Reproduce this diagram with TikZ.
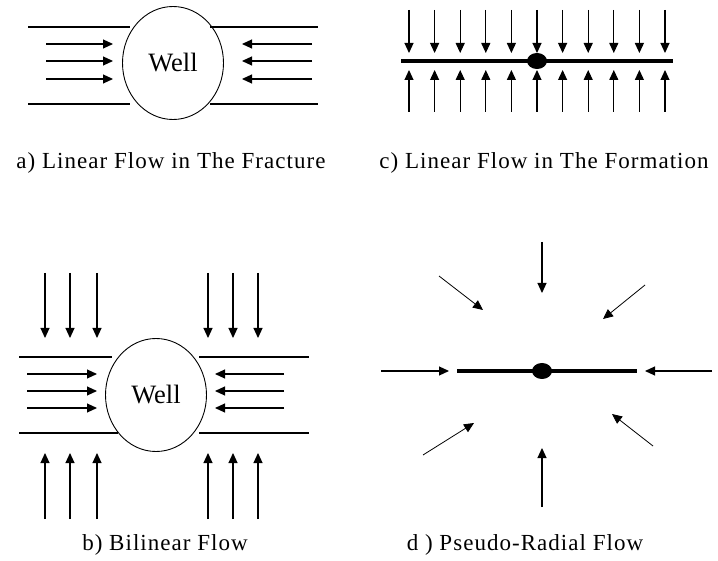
\documentclass[tikz,border=0pt]{standalone}
\usepackage{fontspec}
\setmainfont{Liberation Serif}
\newfontfamily\capfont[LetterSpace=4.5]{Liberation Serif}
\usetikzlibrary{arrows.meta,shapes.geometric}

\begin{document}
\begin{tikzpicture}[x=1pt,y=-1pt,
  flow/.style={line width=1.1pt,-{Triangle[length=10pt,width=9pt]}},
  slant flow/.style={line width=0.8pt,-{Triangle[length=10pt,width=9pt]}},
  wall/.style={line width=1.1pt},
  frac/.style={line width=4.5pt},
  wellbore/.style={ellipse,draw,line width=0.9pt,minimum width=101pt,minimum height=113pt,
                   inner sep=0pt,font=\fontsize{26.5}{31}\selectfont},
  welldot/.style={ellipse,fill=black,minimum width=20pt,minimum height=16pt,inner sep=0pt},
  caption/.style={font=\capfont\fontsize{23}{28}\selectfont,inner sep=0pt,anchor=base}
]
\useasboundingbox (0,0) rectangle (718,561);

% ---------- a) linear flow in the fracture ----------
\node[wellbore] (wa) at (173,63) {Well};
\coordinate (a1) at (28,27);  \coordinate (a2) at (130,27);
\coordinate (a3) at (210,27); \coordinate (a4) at (318,27);
\coordinate (a5) at (28,104); \coordinate (a6) at (130,104);
\coordinate (a7) at (210,104);\coordinate (a8) at (318,104);
\draw[wall] (a1) -- (a2) (a3) -- (a4) (a5) -- (a6) (a7) -- (a8);
\foreach \y [count=\i] in {44,61,79}{
  \coordinate (al\i) at (46,\y);  \coordinate (alt\i) at (113,\y);
  \coordinate (ar\i) at (312,\y); \coordinate (art\i) at (242,\y);
  \draw[flow] (al\i) -- (alt\i);
  \draw[flow] (ar\i) -- (art\i);
}
\node[caption] (capa) at (171,169) {a) Linear Flow in The Fracture};

% ---------- c) linear flow in the formation ----------
\coordinate (c1) at (401,61); \coordinate (c2) at (673,61);
\draw[frac] (c1) -- (c2);
\node[welldot] (wc) at (537,61) {};
\foreach \x [count=\i] in {409,434.6,460.2,485.8,511.4,537,562.6,588.2,613.8,639.4,665}{
  \coordinate (ct\i) at (\x,10);  \coordinate (ctt\i) at (\x,53);
  \coordinate (cb\i) at (\x,112); \coordinate (cbt\i) at (\x,70);
  \draw[flow] (ct\i) -- (ctt\i);
  \draw[flow] (cb\i) -- (cbt\i);
}
\node[caption] (capc) at (544,169) {c) Linear Flow in The Formation};

% ---------- b) bilinear flow ----------
\node[wellbore] (wb) at (156,395) {Well};
\coordinate (b1) at (19,357);  \coordinate (b2) at (112,357);
\coordinate (b3) at (199,357); \coordinate (b4) at (309,357);
\coordinate (b5) at (19,433);  \coordinate (b6) at (118,433);
\coordinate (b7) at (199,433); \coordinate (b8) at (309,433);
\draw[wall] (b1) -- (b2) (b3) -- (b4) (b5) -- (b6) (b7) -- (b8);
\foreach \y [count=\i] in {374,391,408}{
  \coordinate (bl\i) at (27,\y);  \coordinate (blt\i) at (97,\y);
  \coordinate (br\i) at (284,\y); \coordinate (brt\i) at (215,\y);
  \draw[flow] (bl\i) -- (blt\i);
  \draw[flow] (br\i) -- (brt\i);
}
\foreach \x [count=\i] in {45,70,97,208,233,258}{
  \coordinate (bt\i) at (\x,273); \coordinate (btt\i) at (\x,338);
  \coordinate (bb\i) at (\x,519); \coordinate (bbt\i) at (\x,453);
  \draw[flow] (bt\i) -- (btt\i);
  \draw[flow] (bb\i) -- (bbt\i);
}
\node[caption] (capb) at (165,550) {b) Bilinear Flow};

% ---------- d) pseudo-radial flow ----------
\coordinate (d1) at (457,371); \coordinate (d2) at (637,371);
\draw[frac] (d1) -- (d2);
\node[welldot] (wd) at (542,371) {};
\coordinate (dn) at (542,242);  \coordinate (dnt) at (542,293);
\coordinate (ds) at (542,507);  \coordinate (dst) at (542,448);
\coordinate (dw) at (381,371);  \coordinate (dwt) at (449,371);
\coordinate (de) at (712,371);  \coordinate (det) at (645,371);
\coordinate (dnw) at (439,276); \coordinate (dnwt) at (483,310);
\coordinate (dne) at (645,285); \coordinate (dnet) at (603,319);
\coordinate (dsw) at (423,455); \coordinate (dswt) at (474,423);
\coordinate (dse) at (653,446); \coordinate (dset) at (612,414);
\draw[flow] (dn) -- (dnt);
\draw[flow] (ds) -- (dst);
\draw[flow] (dw) -- (dwt);
\draw[flow] (de) -- (det);
\draw[slant flow] (dnw) -- (dnwt);
\draw[slant flow] (dne) -- (dnet);
\draw[slant flow] (dsw) -- (dswt);
\draw[slant flow] (dse) -- (dset);
\node[caption] (capd) at (525,550) {d ) Pseudo-Radial Flow};
\end{tikzpicture}
\end{document}
